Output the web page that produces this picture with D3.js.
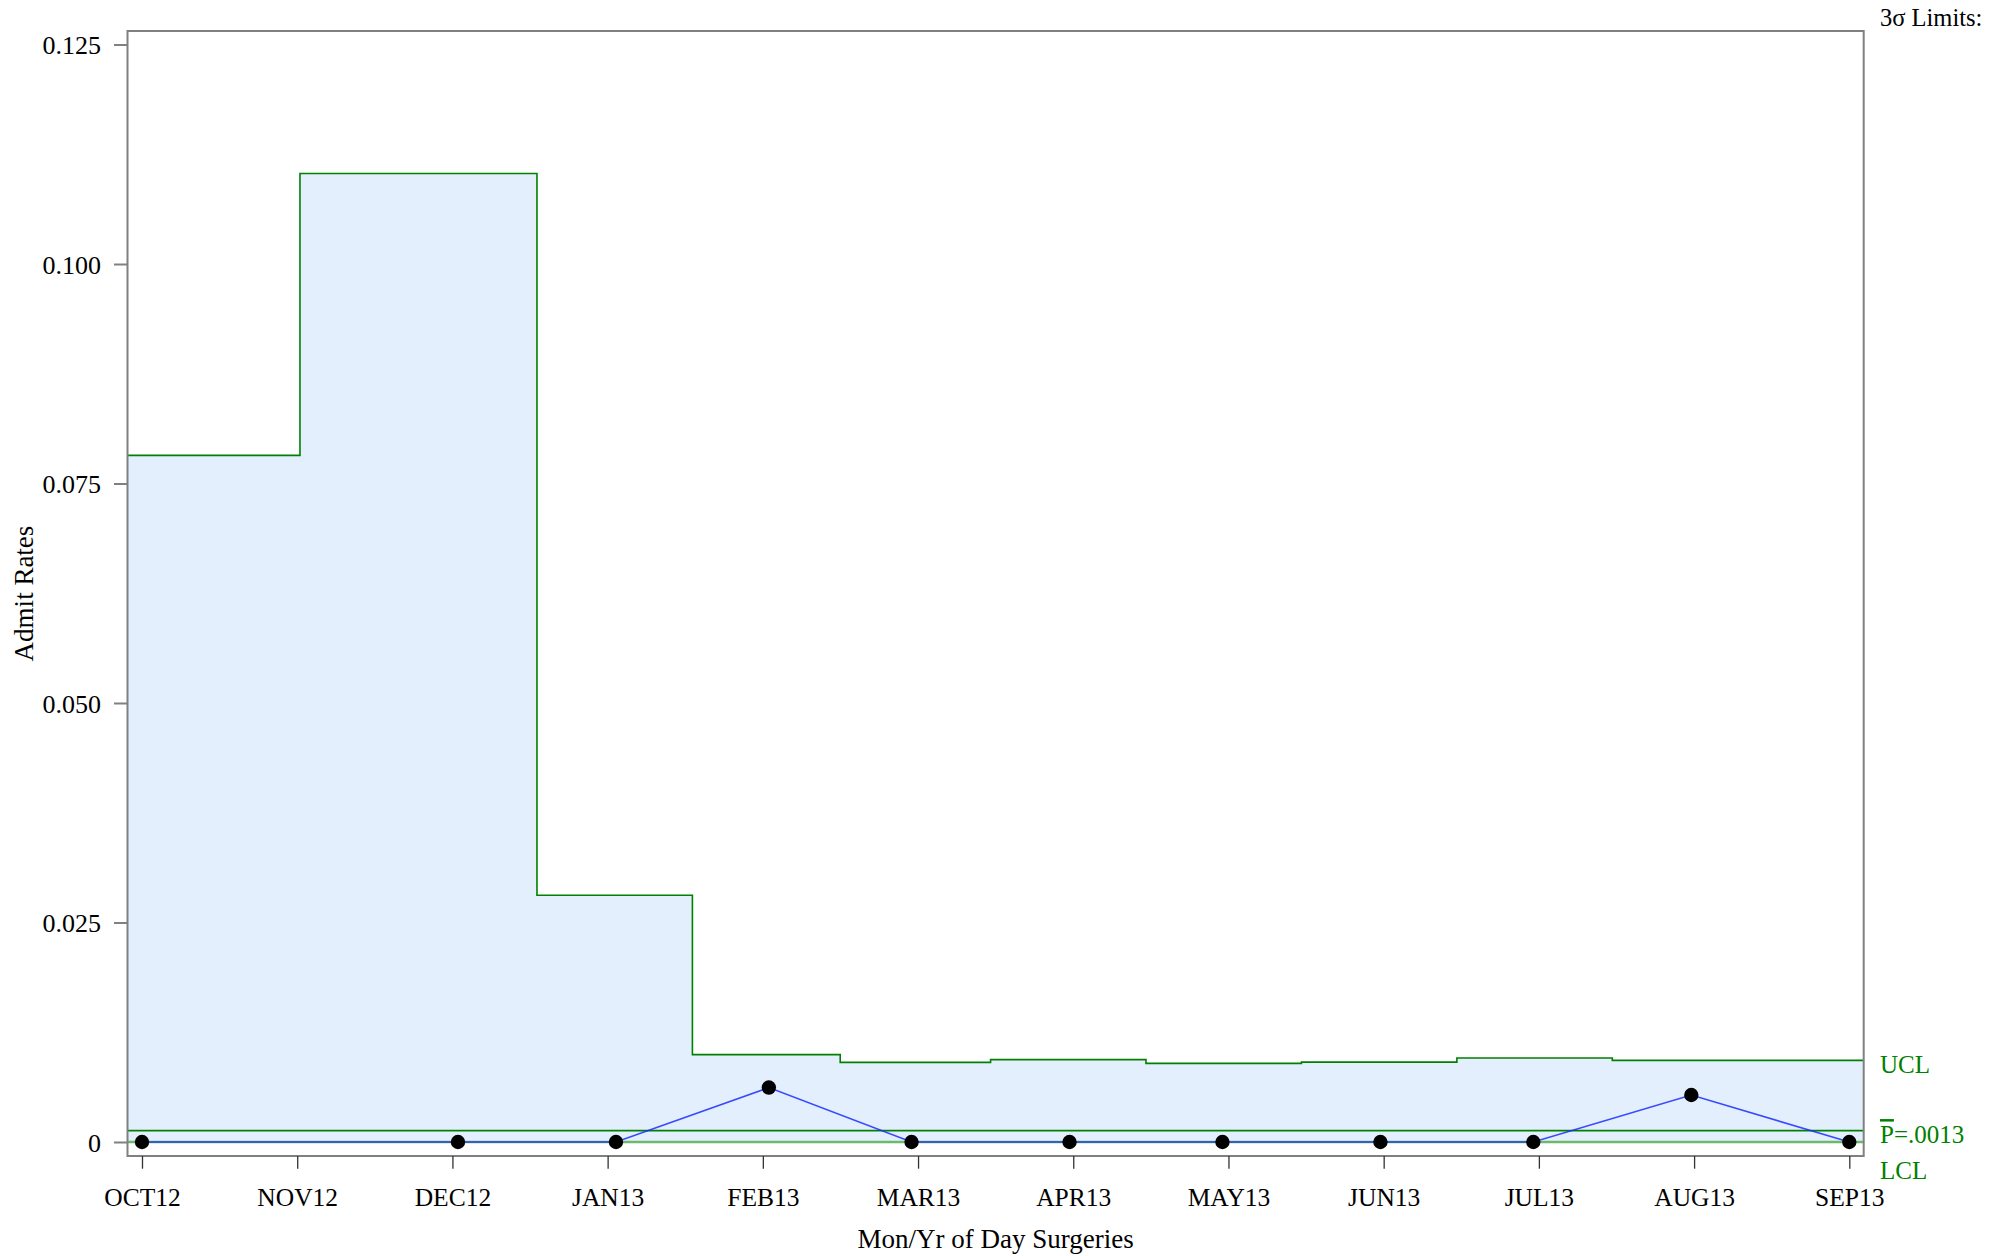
<!DOCTYPE html>
<html>
<head>
<meta charset="utf-8">
<script src="https://cdn.jsdelivr.net/npm/d3@7"></script>
<style>
  body { margin: 0; background: white; }
  text { font-family: "Liberation Serif", "Times New Roman", serif; }
</style>
</head>
<body>
<div id="chart"></div>
<script>
// --- data ---
var tickLabels = ["OCT12", "NOV12", "DEC12", "JAN13", "FEB13", "MAR13", "APR13", "MAY13", "JUN13", "JUL13", "AUG13", "SEP13"];
var subgroupDates = ["2012-10-01", "2012-12-02", "2013-01-02", "2013-02-01", "2013-03-01", "2013-04-01",
                     "2013-05-01", "2013-06-01", "2013-07-01", "2013-08-01", "2013-09-01"];
var admitRates = [0, 0, 0, 0.0062, 0, 0, 0, 0, 0, 0.00535, 0];
var uclValues = [0.0782, 0.1103, 0.0281, 0.00995, 0.00907, 0.00938, 0.00896, 0.0091, 0.00957, 0.0093, 0.0093];
var yTicks = [0, 0.025, 0.05, 0.075, 0.1, 0.125];
var pBar = 0.0013;
var lcl = 0;

// Colors
var frameColor = "#808080";
var limitGreen = "#008000";
var lclGreen = "#6cb86c";
var zoneFill = "#e3effd";
var seriesBlue = "#1a2cff";

var W = 2002, H = 1256;
var frame = { left: 127.5, top: 31, right: 1863.7, bottom: 1156 };

var svg = d3.select("div#chart").append("svg")
    .attr("width", W)
    .attr("height", H);

var parse = d3.timeParse("%Y-%m-%d");
var points = subgroupDates.map(function (d, i) {
    return { date: parse(d), rate: admitRates[i], ucl: uclValues[i] };
});

// scales
var x = d3.scaleTime()
    .domain([parse("2012-10-01"), parse("2013-09-01")])
    .range([142, 1849.3]);
var xTick = d3.scalePoint()
    .domain(tickLabels)
    .range([142, 1849.3]);
var y = d3.scaleLinear()
    .domain([0, 0.125])
    .range([1142, 44.5]);

// step boundaries for the control limit (midway between subgroups)
var steps = points.map(function (p, i) {
    var sx = i === 0 ? frame.left : (x(points[i - 1].date) + x(p.date)) / 2;
    return { x: sx, v: p.ucl };
});
steps.push({ x: frame.right, v: points[points.length - 1].ucl });

// shaded zone between LCL and UCL
svg.append("path")
    .datum(steps)
    .attr("d", d3.area()
        .curve(d3.curveStepAfter)
        .x(function (d) { return d.x; })
        .y0(y(lcl))
        .y1(function (d) { return y(d.v); }))
    .attr("fill", zoneFill);

// UCL step line
svg.append("path")
    .datum(steps)
    .attr("d", d3.line()
        .curve(d3.curveStepAfter)
        .x(function (d) { return d.x; })
        .y(function (d) { return y(d.v); }))
    .attr("fill", "none")
    .attr("stroke", limitGreen)
    .attr("stroke-width", 1.6);

// center line
svg.append("line")
    .attr("x1", frame.left).attr("x2", frame.right)
    .attr("y1", y(pBar)).attr("y2", y(pBar))
    .attr("stroke", limitGreen)
    .attr("stroke-width", 1.6);

// LCL
svg.append("line")
    .attr("x1", frame.left).attr("x2", frame.right)
    .attr("y1", y(lcl)).attr("y2", y(lcl))
    .attr("stroke", lclGreen)
    .attr("stroke-width", 2.6);

// series line
svg.append("path")
    .datum(points)
    .attr("d", d3.line()
        .x(function (d) { return x(d.date); })
        .y(function (d) { return y(d.rate); }))
    .attr("fill", "none")
    .attr("stroke", seriesBlue)
    .attr("stroke-opacity", 0.85)
    .attr("stroke-width", 1.6);

// points
svg.selectAll("circle.pt")
    .data(points)
    .enter()
    .append("circle")
    .attr("class", "pt")
    .attr("cx", function (d) { return x(d.date); })
    .attr("cy", function (d) { return y(d.rate); })
    .attr("r", 7.2)
    .attr("fill", "black");

// frame
svg.append("rect")
    .attr("x", frame.left)
    .attr("y", frame.top)
    .attr("width", frame.right - frame.left)
    .attr("height", frame.bottom - frame.top)
    .attr("fill", "none")
    .attr("stroke", frameColor)
    .attr("stroke-width", 2);

// y axis
var yAxis = svg.append("g")
    .attr("transform", "translate(" + frame.left + ",0)")
    .call(d3.axisLeft(y)
        .tickValues(yTicks)
        .tickSize(13.5)
        .tickPadding(13)
        .tickFormat(function (d) { return d === 0 ? "0" : d3.format(".3f")(d); }));
yAxis.select(".domain").remove();
yAxis.selectAll(".tick line").attr("stroke", frameColor).attr("stroke-width", 2);
yAxis.selectAll(".tick text")
    .attr("font-family", "'Liberation Serif', 'Times New Roman', serif")
    .attr("font-size", 26)
    .attr("fill", "black")
    .attr("dy", "0.36em");

// x axis
var xAxis = svg.append("g")
    .attr("transform", "translate(0," + frame.bottom + ")")
    .call(d3.axisBottom(xTick).tickSize(12.7));
xAxis.select(".domain").remove();
xAxis.selectAll(".tick line").attr("stroke", "#333").attr("stroke-width", 1.3);
xAxis.selectAll(".tick text")
    .attr("font-family", "'Liberation Serif', 'Times New Roman', serif")
    .attr("font-size", 25.5)
    .attr("fill", "black")
    .attr("y", 49.7)
    .attr("dy", 0);

// axis titles
svg.append("text")
    .attr("x", (frame.left + frame.right) / 2)
    .attr("y", 1248)
    .attr("text-anchor", "middle")
    .attr("font-size", 27)
    .text("Mon/Yr of Day Surgeries");

svg.append("text")
    .attr("transform", "translate(33," + ((frame.top + frame.bottom) / 2) + ") rotate(-90)")
    .attr("text-anchor", "middle")
    .attr("font-size", 27)
    .text("Admit Rates");

// limit labels
svg.append("text")
    .attr("x", 1880).attr("y", 26)
    .attr("font-size", 24.5)
    .text("3σ Limits:");

var lastUcl = uclValues[uclValues.length - 1];
svg.append("text")
    .attr("x", 1880).attr("y", y(lastUcl) + 12.5)
    .attr("font-size", 25)
    .attr("fill", limitGreen)
    .text("UCL");

var pLabel = svg.append("text")
    .attr("x", 1880).attr("y", y(pBar) + 12.5)
    .attr("font-size", 25)
    .attr("fill", limitGreen);
pLabel.append("tspan")
    .style("text-decoration", "overline")
    .text("P");
pLabel.append("tspan")
    .text("=" + d3.format(".4f")(pBar).replace(/^0/, ""));

svg.append("text")
    .attr("x", 1880).attr("y", y(lcl) + 37)
    .attr("font-size", 25)
    .attr("fill", limitGreen)
    .text("LCL");
</script>
</body>
</html>
